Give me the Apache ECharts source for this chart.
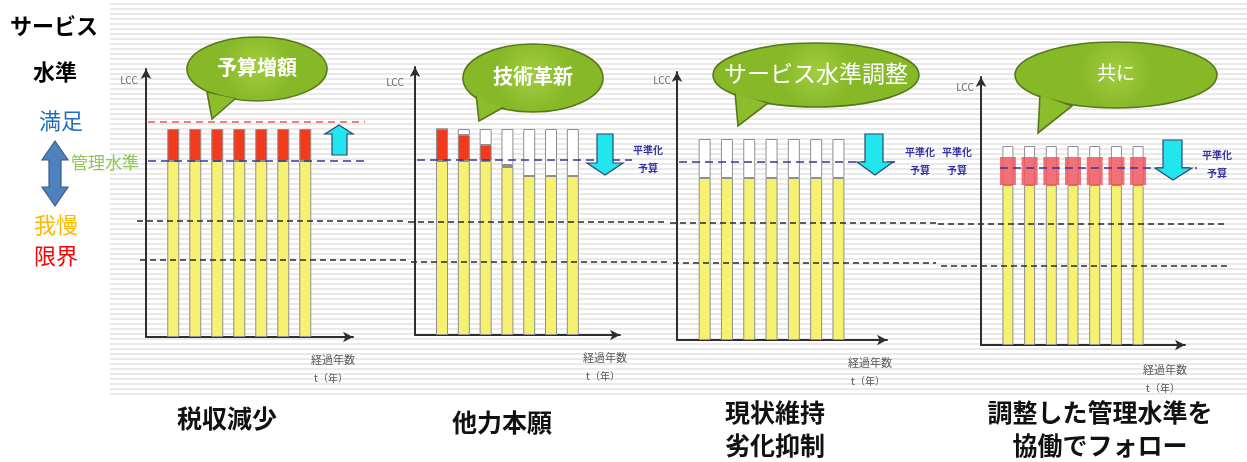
<!DOCTYPE html>
<html><head><meta charset="utf-8">
<script src="https://cdn.jsdelivr.net/npm/echarts@6/dist/echarts.min.js"></script>
<style>
html,body{margin:0;padding:0;background:#fff;}
#wrap{position:relative;width:1247px;height:462px;}
#bg{position:absolute;left:110px;top:0;width:1137px;height:398px;
 background:repeating-linear-gradient(to bottom,#ffffff 0px,#ffffff 3px,#e9e9e9 3px,#e9e9e9 5px);}
#c{position:absolute;left:0;top:0;width:1247px;height:462px;}
</style></head>
<body><div id="wrap"><div id="bg"></div><div id="c"></div></div>
<script>
// ---- data ----
const years = ['1', '2', '3', '4', '5', '6', '7'];
const p1Yellow = [176, 176, 176, 176, 176, 176, 176];
const p1Red    = [32, 32, 32, 32, 32, 32, 32];
const p2Yellow = [174, 174, 174, 168, 159, 159, 159];
const p2Red    = [32, 26, 16, 2, 0, 0, 0];
const p2White  = [0, 6, 16, 36, 47, 47, 47];
const p3Yellow = [162, 162, 162, 162, 162, 162, 162];
const p3White  = [39, 39, 39, 39, 39, 39, 39];
const p4Yellow = [160, 160, 160, 160, 160, 160, 160];
const p4White  = [39, 39, 39, 39, 39, 39, 39];
const p4PinkBase = [160, 160, 160, 160, 160, 160, 160];
const p4Pink   = [28, 28, 28, 28, 28, 28, 28];
const managedLevel = [176, 175, 178, 177];   // 平準化予算 / 管理水準
const raisedLevel  = [215];                  // 予算増額 level (panel 1)
const limitUpper   = [116, 113, 117, 121];   // 我慢 level
const limitLower   = [77, 73, 77, 79];       // 限界 level
const balloonTexts = ['予算増額', '技術革新', 'サービス水準調整', '共に'];
const captions = [['税収減少'], ['他力本願'], ['現状維持', '劣化抑制'], ['調整した管理水準を', '協働でフォロー']];

// ---- layout ----
const FONT = '"Noto Sans CJK JP","Noto Sans",sans-serif';
const YMAX = 268;
const panels = [
  {ax: 146, base: 337, w: 207, s: 22.0, bw: 12, bL: 137, bR: 408},
  {ax: 415, base: 335, w: 205, s: 21.8, bw: 12, bL: 408, bR: 670},
  {ax: 677, base: 340, w: 210, s: 22.3, bw: 12, bL: 670, bR: 938},
  {ax: 981, base: 345, w: 204, s: 21.7, bw: 11, bL: 938, bR: 1230}
];
const YELLOW = '#f6f171', RED = '#f23b1d', PINK = 'rgba(240,88,98,0.85)';
const BORDER = '#8f8f8f';

const grids = [], xAxes = [], yAxes = [], series = [];
function addGrid(left, top, width, height) {
  grids.push({left: left, top: top, width: width, height: height, containLabel: false});
  return grids.length - 1;
}
function hiddenCatAxes(gi) {
  xAxes.push({gridIndex: gi, type: 'category', data: years, boundaryGap: true, show: false});
  yAxes.push({gridIndex: gi, type: 'value', min: 0, max: YMAX, show: false});
  return xAxes.length - 1;
}
function bar(ai, stack, vals, color, bw, border, z) {
  series.push({type: 'bar', xAxisIndex: ai, yAxisIndex: ai, stack: stack, barWidth: bw,
    data: vals.slice(), silent: true, animation: false, z: z || 3,
    itemStyle: {color: color, borderColor: border === false ? 'transparent' : BORDER, borderWidth: border === false ? 0 : 1}});
}
function lineSeg(from, to, y, color, dash) {
  return [{coord: [from, y], lineStyle: {color: color, type: dash, width: 1.6}}, {coord: [to, y]}];
}

panels.forEach((p, k) => {
  const top = p.base - YMAX;
  // visible axes grid
  const ga = addGrid(p.ax, top, p.w, YMAX);
  xAxes.push({gridIndex: ga, type: 'value', min: 0, max: 1,
    axisLine: {show: true, onZero: false, symbol: ['none', 'arrow'], symbolSize: [8, 10], lineStyle: {color: '#2e2e2e', width: 2}},
    axisTick: {show: false}, axisLabel: {show: false}, splitLine: {show: false}});
  yAxes.push({gridIndex: ga, type: 'value', min: 0, max: YMAX,
    axisLine: {show: true, symbol: ['none', 'arrow'], symbolSize: [8, 10], lineStyle: {color: '#2e2e2e', width: 2}},
    axisTick: {show: false}, axisLabel: {show: false}, splitLine: {show: false}});
  // bar grid aligned with the year slots
  const gl = p.ax + 0.74 * p.s;
  const gb = addGrid(gl, top, 7 * p.s, YMAX);
  const ai = hiddenCatAxes(gb);
  const st = 's' + k;
  if (k === 0) { bar(ai, st, p1Yellow, YELLOW, p.bw); bar(ai, st, p1Red, RED, p.bw); }
  if (k === 1) { bar(ai, st, p2Yellow, YELLOW, p.bw); bar(ai, st, p2Red, RED, p.bw); bar(ai, st, p2White, '#ffffff', p.bw); }
  if (k === 2) { bar(ai, st, p3Yellow, YELLOW, p.bw); bar(ai, st, p3White, '#ffffff', p.bw); }
  if (k === 3) {
    bar(ai, st, p4Yellow, YELLOW, p.bw); bar(ai, st, p4White, '#ffffff', p.bw);
    const gp = addGrid(gl, top, 7 * p.s, YMAX);
    const ap = hiddenCatAxes(gp);
    bar(ap, 'pk', p4PinkBase, 'transparent', 16, false, 4);
    bar(ap, 'pk', p4Pink, PINK, 16, false, 4);
  }
  // reference-line grid (pixel-width x range)
  const gr = addGrid(p.bL, top, p.bR - p.bL, YMAX);
  xAxes.push({gridIndex: gr, type: 'value', min: p.bL, max: p.bR, show: false});
  yAxes.push({gridIndex: gr, type: 'value', min: 0, max: YMAX, show: false});
  const bi = xAxes.length - 1;
  const lines = [];
  const blueFrom = k === 3 ? 1000 : p.ax + 2;
  const blueTo = p.ax + p.w + 12;
  lines.push(lineSeg(blueFrom, blueTo, managedLevel[k], '#34349a', [8, 5]));
  if (k === 0) lines.push(lineSeg(p.ax + 2, p.ax + p.w + 12, raisedLevel[0], '#e25a5a', [7, 5]));
  lines.push(lineSeg(p.bL, p.bR - 2, limitUpper[k], '#2a2a2a', [6, 4]));
  lines.push(lineSeg(p.bL + 3, p.bR - 2, limitLower[k], '#2a2a2a', [6, 4]));
  series.push({type: 'line', xAxisIndex: bi, yAxisIndex: bi, data: [], animation: false, silent: true,
    markLine: {symbol: ['none', 'none'], silent: true, animation: false, label: {show: false}, z: 10, data: lines}});
});

// ---- annotations ----
const G = [];
function txt(x, y, s, size, color, weight, align, z) {
  G.push({type: 'text', z: z || 60, style: {text: s, x: x, y: y, font: (weight || 'normal') + ' ' + size + 'px ' + FONT,
    fill: color, align: align || 'center', verticalAlign: 'middle'}});
}
function poly(pts, fill, stroke, z) {
  G.push({type: 'polygon', z: z || 60, shape: {points: pts}, style: {fill: fill, stroke: stroke, lineWidth: 1.2}});
}
function balloon(cx, cy, rx, ry, tail, text, size, weight) {
  const fill = {type: 'radial', x: 0.5, y: 0.45, r: 0.6, colorStops: [{offset: 0, color: '#a2cd3e'}, {offset: 1, color: '#86b828'}]};
  G.push({type: 'ellipse', z: 70, shape: {cx: cx, cy: cy, rx: rx, ry: ry}, style: {fill: fill, stroke: '#56781a', lineWidth: 1.6}});
  G.push({type: 'polygon', z: 71, shape: {points: tail}, style: {fill: '#8cbd2c', stroke: '#56781a', lineWidth: 1.6}});
  G.push({type: 'ellipse', z: 72, shape: {cx: cx, cy: cy, rx: rx - 1.5, ry: ry - 1.5}, style: {fill: fill}});
  txt(cx, cy - 2, text, size, '#ffffff', weight, 'center', 73);
}
balloon(257, 69, 70, 32, [[207, 92], [212, 119], [236, 98]], balloonTexts[0], 20, 'bold');
balloon(533, 78, 70, 34, [[476, 94], [479, 121], [504, 107]], balloonTexts[1], 20, 'bold');
balloon(816, 75, 103, 32, [[735, 92], [738, 126], [768, 103]], balloonTexts[2], 23, 'normal');
balloon(1116, 75, 101, 33, [[1040, 94], [1038, 133], [1072, 106]], balloonTexts[3], 19, 'normal');

// cyan arrows
const CY = '#22e6ee', CYS = '#2b4870';
poly([[339, 125], [353, 134], [347, 134], [347, 155], [332, 155], [332, 134], [325, 134]], CY, CYS);
poly([[597, 134], [613, 134], [613, 163], [623, 163], [605, 175], [587, 163], [597, 163]], CY, CYS);
poly([[865, 134], [883, 134], [883, 162], [893, 162], [875, 175], [857, 162], [865, 162]], CY, CYS);
poly([[1163, 140], [1182, 140], [1182, 168], [1192, 168], [1173, 180], [1155, 168], [1163, 168]], CY, CYS);

// 平準化 予算 labels
[[648, 150], [920, 152], [957, 152], [1217, 155]].forEach(function (q) {
  txt(q[0], q[1], '平準化', 10, '#3434a0', 'bold');
  txt(q[0], q[1] + 18, '予算', 10, '#3434a0', 'bold');
});
// axis titles
[[129, 80], [395, 82], [662, 80], [965, 87]].forEach(function (q) { txt(q[0], q[1], 'LCC', 10, '#6a6a6a', 'normal'); });
[[333, 360], [605, 358], [870, 363], [1165, 370]].forEach(function (q) {
  txt(q[0], q[1], '経過年数', 11, '#555', 'normal');
  txt(q[0] - 2, q[1] + 18, 't（年）', 10, '#555', 'normal');
});

// left legend
txt(54, 26, 'サービス', 22, '#000', 'bold');
txt(55, 72, '水準', 22, '#000', 'bold');
txt(61, 121, '満足', 22, '#1f6fc1', 'normal');
poly([[55, 141], [68, 160], [61, 160], [61, 187], [68, 187], [55, 206], [42, 187], [49, 187], [49, 160], [42, 160]], '#4f81bd', '#385d8a');
txt(105, 163, '管理水準', 17, '#8cc850', 'normal');
txt(56, 225, '我慢', 22, '#ffb800', 'normal');
txt(56, 256, '限界', 22, '#ff0000', 'normal');

// captions
const capPos = [[227, 418], [502, 422], [775, 412], [1100, 412]];
captions.forEach(function (lines, k) {
  lines.forEach(function (s, j) { txt(capPos[k][0], capPos[k][1] + j * 33, s, 25, '#111', 'bold'); });
});

const chart = echarts.init(document.getElementById('c'), null, {renderer: 'canvas'});
chart.setOption({animation: false, backgroundColor: 'transparent', grid: grids, xAxis: xAxes, yAxis: yAxes, series: series, graphic: {elements: G}});
</script></body></html>
